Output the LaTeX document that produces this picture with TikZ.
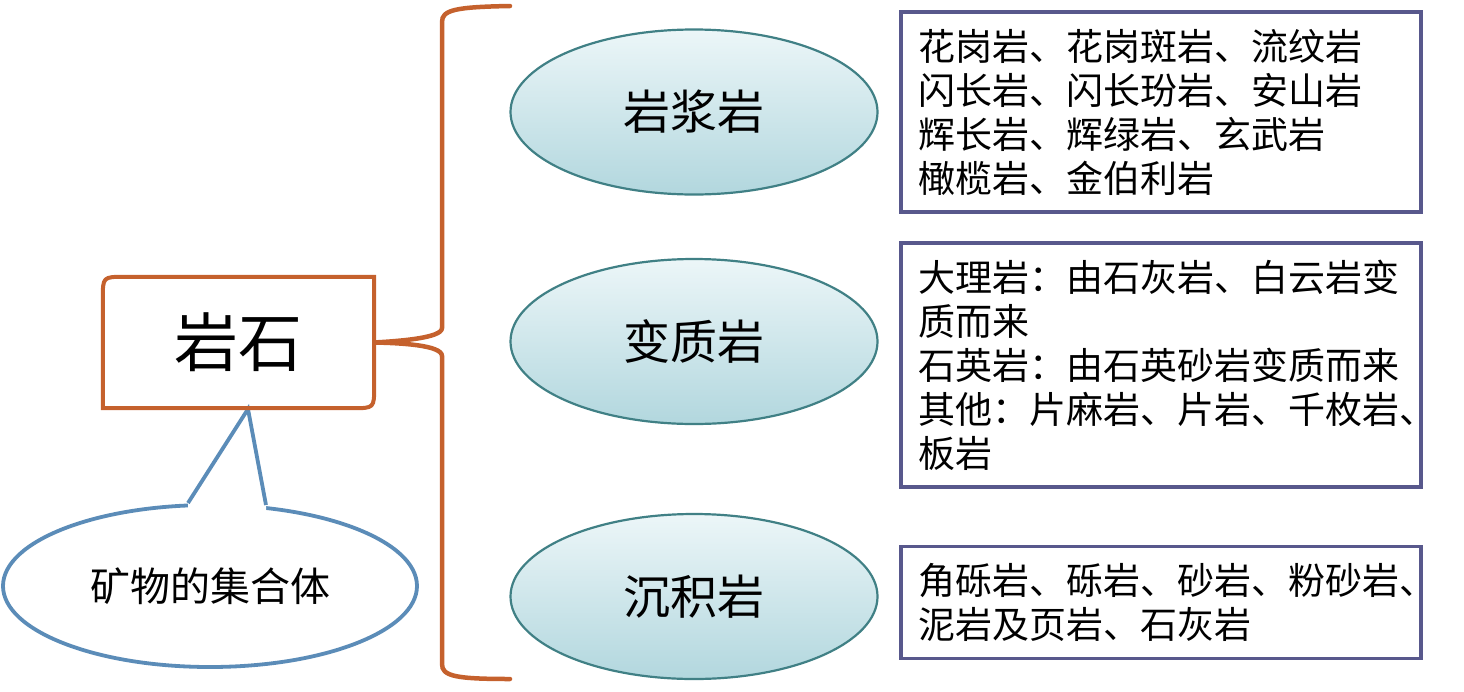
\documentclass[tikz,border=0pt]{standalone}
\usepackage{fontspec}
\setmainfont{Noto Sans CJK SC}
\usetikzlibrary{shapes.geometric}

\definecolor{rockorange}{RGB}{197,97,45}
\definecolor{noteblue}{RGB}{91,140,184}
\definecolor{ovalteal}{RGB}{64,128,133}
\definecolor{ovaltop}{RGB}{236,246,248}
\definecolor{ovalbot}{RGB}{178,215,222}
\definecolor{listframe}{RGB}{88,88,140}

\tikzset{
  oval/.style={ellipse, draw=ovalteal, line width=2.2pt, top color=ovaltop, bottom color=ovalbot,
    minimum width=367pt, minimum height=165pt, inner sep=0pt, font=\fontsize{47}{50}\selectfont},
  listbox/.style={draw=listframe, line width=3.6pt, text width=486pt, inner sep=17pt, align=left,
    font=\fontsize{37}{44}\selectfont},
  brace/.style={draw=rockorange, line width=4.5pt, line cap=round}
}

\begin{document}
\begin{tikzpicture}[x=1pt, y=-1pt]
\useasboundingbox (0,0) rectangle (1464,691);

% callout
\node[ellipse, draw=noteblue, line width=3.8pt, fill=white, minimum width=414pt, minimum height=162pt,
  inner sep=0pt, font=\fontsize{40}{44}\selectfont] (note) at (210,586) {矿物的集合体};
\coordinate (tip) at (248,409);
\coordinate (tl) at (188,503);
\coordinate (tr) at (266,505);
\fill[white] (tip) -- (tl) -- (188,516) -- (266,516) -- (tr) -- cycle;
\draw[noteblue, line width=3.8pt] (tl) -- (tip) -- (tr);

% rock box
\node[minimum width=271pt, minimum height=131pt, inner sep=0pt, font=\fontsize{64}{70}\selectfont]
  (rocks) at (238.5,342.5) {岩石};
\draw[rockorange, line width=4pt] (rocks.south west) -- ([yshift=-22pt]rocks.north west)
  .. controls (rocks.north west) .. ([xshift=22pt]rocks.north west) -- (rocks.north east)
  -- ([yshift=22pt]rocks.south east) .. controls (rocks.south east) .. ([xshift=-22pt]rocks.south east)
  -- cycle;

% brace
\coordinate (btop) at (510,6);
\coordinate (bbot) at (510,679);
\draw[brace] (btop) .. controls (455,7) and (442,10) .. (442,22) -- (442,328)
  .. controls (442,338) and (400,341) .. (rocks.east)
  .. controls (400,343) and (442,345) .. (442,356) -- (442,664)
  .. controls (442,676) and (455,679) .. (bbot);

% kinds
\foreach \n/\t/\y in {magma/岩浆岩/112, meta/变质岩/341.5, sedi/沉积岩/596.5}
  \node[oval] (\n) at (694,\y) {\t};

% lists
\node[listbox] (magmalist) at (1161,112) [minimum height=198pt]
  {花岗岩、花岗斑岩、流纹岩\\闪长岩、闪长玢岩、安山岩\\辉长岩、辉绿岩、玄武岩\\橄榄岩、金伯利岩};
\node[listbox] (metalist) at (1161,365) [minimum height=244pt]
  {大理岩：由石灰岩、白云岩变\\质而来\\石英岩：由石英砂岩变质而来\\其他：片麻岩、片岩、千枚岩、\\板岩};
\node[listbox] (sedilist) at (1161,602.5) [minimum height=107pt]
  {角砾岩、砾岩、砂岩、粉砂岩、\\泥岩及页岩、石灰岩};

\end{tikzpicture}
\end{document}
